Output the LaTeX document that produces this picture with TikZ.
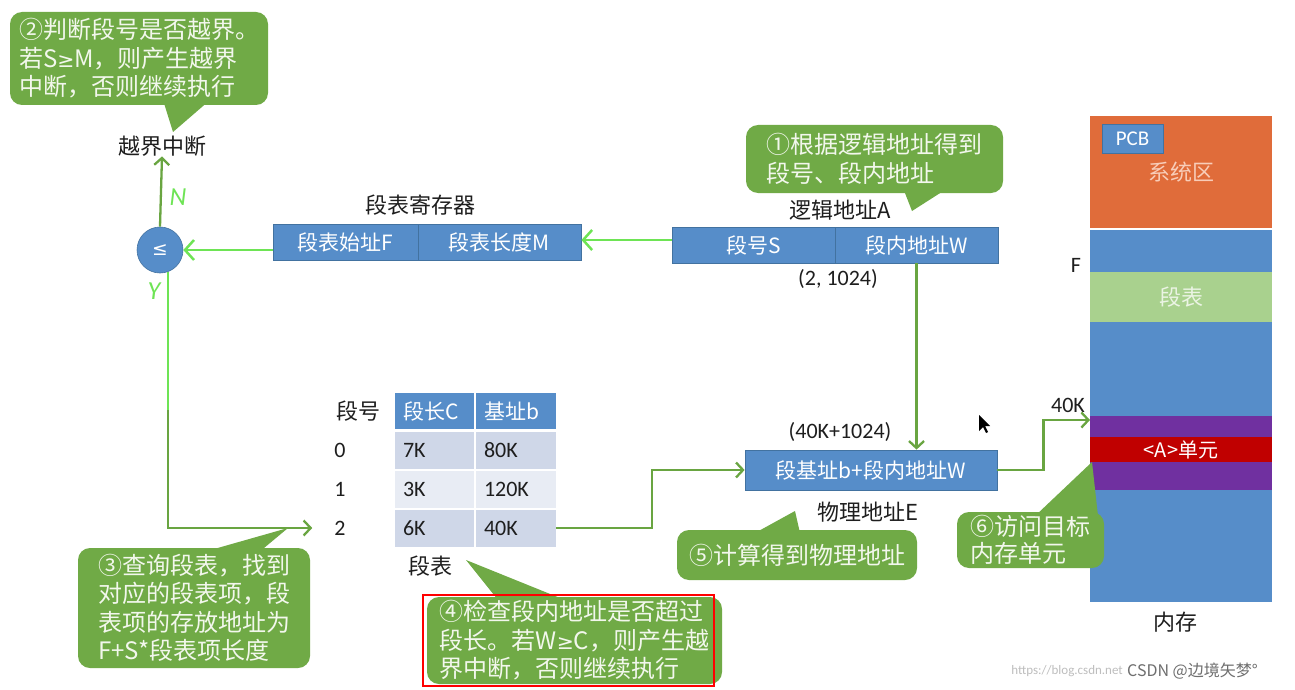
\documentclass[tikz,border=0pt]{standalone}
\usepackage{fontspec}
\setmainfont{Carlito}
\newfontfamily\cjk{Noto Sans CJK SC}
\newfontfamily\djv[Scale=0.85]{DejaVu Sans}
\usetikzlibrary{arrows.meta}
\definecolor{cgreen}{RGB}{112,170,70}
\definecolor{cgreenline}{RGB}{105,165,65}
\definecolor{cbright}{RGB}{110,228,85}
\definecolor{cblue}{RGB}{86,141,201}
\definecolor{cblueb}{RGB}{66,114,160}
\definecolor{corange}{RGB}{224,108,58}
\definecolor{corangetxt}{RGB}{248,205,185}
\definecolor{csegt}{RGB}{169,209,142}
\definecolor{csegttxt}{RGB}{235,244,228}
\definecolor{cpurple}{RGB}{112,48,160}
\definecolor{cred}{RGB}{192,0,0}
\definecolor{crowa}{RGB}{207,215,232}
\definecolor{crowb}{RGB}{232,236,244}
\definecolor{ctxt}{RGB}{242,247,236}
\definecolor{cdark}{RGB}{30,30,30}
\definecolor{curl}{RGB}{190,190,190}
\definecolor{cwm}{RGB}{110,110,110}
\newcommand\myfs[2]{\fontsize{#1}{#2}\selectfont}
\tikzset{
  callout/.style={fill=cgreen, rounded corners=12, text=ctxt, align=left, inner sep=0,
    font=\cjk\myfs{24}{28.5}},
  bbox/.style={fill=cblue, draw=cblueb, line width=0.8, text=white, inner sep=0,
    font=\cjk\myfs{21}{24}},
  band/.style={inner sep=0, minimum width=182},
  lbl/.style={text=cdark, inner sep=0, font=\cjk\myfs{22}{26}},
  num/.style={text=cdark, inner sep=0, font=\myfs{22}{26}},
  cell/.style={inner sep=0, inner xsep=8, minimum height=37, align=left, text=cdark, font=\myfs{22}{26}},
  darrow/.style={draw=cgreenline, line width=2.3, -{Straight Barb[length=7,width=15,line width=2.3]}},
  dline/.style={draw=cgreenline, line width=2.3},
  barrow/.style={draw=cbright, line width=2.5, -{Straight Barb[length=9,width=20,line width=2.5]}},
  bline/.style={draw=cbright, line width=2.5},
  hand/.style={text=cbright, inner sep=0, font=\itshape\myfs{26}{28}}
}
\begin{document}
\begin{tikzpicture}[x=1pt,y=-1pt]
\useasboundingbox[fill=white] (0,0) rectangle (1295,690);

% ---------- memory ----------
\node[band, fill=cblue, minimum height=372] (memlow) at (1181,416) {};
\node[band, fill=corange, minimum height=112, text=corangetxt, font=\cjk\myfs{22}{26}] (sys) at (1181,172) {系统区};
\node[fill=cblue, draw=cblueb, line width=0.6, minimum width=61, minimum height=29, inner sep=0, text=white, font=\myfs{21}{24}] (pcb) at (1132.5,138.5) {PCB};
\node[band, fill=csegt, minimum height=50, text=csegttxt, font=\cjk\myfs{22}{26}] (segmem) at (1181,297) {段表};
\node[band, fill=cpurple, minimum height=74] (purple) at (1181,453) {};
\node[band, fill=cred, minimum height=25, text=white, font=\cjk\myfs{20}{24}] (unitA) at (1181,449.5) {<A>单元};
\node[num] (flbl) at (1076,265) {F};
\node[num] (k40) at (1068,405) {40K};
\node[lbl] (memlbl) at (1175,622) {内存};
\coordinate (m40) at (1090,420);

% ---------- overflow / compare ----------
\node[lbl] (ovf) at (162,146) {越界中断};
\node[circle, fill=cblue, draw=cblueb, line width=0.6, minimum size=46, inner sep=0, text=white, font=\djv\myfs{22}{24}] (cmp) at (160,250) {≤};
\draw[darrow] (cmp.north) -- (ovf.south);
\node[hand] (nlab) at (178,197) {N};
\node[hand] (ylab) at (154,291) {Y};

% ---------- segment register ----------
\node[lbl] (reglbl) at (420,205) {段表寄存器};
\node[bbox, minimum width=145, minimum height=36] (regF) at (345.5,242) {段表始址F};
\node[bbox, minimum width=163, minimum height=36] (regM) at (499.5,242) {段表长度M};

% ---------- logical address ----------
\node[lbl] (lalbl) at (840,210) {逻辑地址A};
\node[bbox, minimum width=163, minimum height=36] (laS) at (753.5,245) {段号S};
\node[bbox, minimum width=163, minimum height=36] (laW) at (916.5,245) {段内地址W};
\node[num] (la) at (838,279) {(2, 1024)};

% ---------- physical address ----------
\node[num] (pa) at (840,432) {(40K+1024)};
\node[bbox, minimum width=252, minimum height=40] (phys) at (871,470) {段基址b+段内地址W};
\node[lbl] (palbl) at (868,512) {物理地址E};

% ---------- segment table ----------
\node[lbl] (thno) at (358,411) {段号};
\node[cell, fill=cblue, text=white, text width=63, minimum height=36, font=\cjk\myfs{21}{24}] (h1) at (434.5,411) {段长C};
\node[cell, fill=cblue, text=white, text width=64, minimum height=36, font=\cjk\myfs{21}{24}] (h2) at (516,411) {基址b};
\node[cell, fill=crowa, text width=63] (c01) at (434.5,450) {7K};
\node[cell, fill=crowa, text width=64] (c02) at (516,450) {80K};
\node[cell, fill=crowb, text width=63] (c11) at (434.5,489) {3K};
\node[cell, fill=crowb, text width=64] (c12) at (516,489) {120K};
\node[cell, fill=crowa, text width=63] (c21) at (434.5,528) {6K};
\node[cell, fill=crowa, text width=64] (c22) at (516,528) {40K};
\node[num] (r0) at (340,450) {0};
\node[num] (r1) at (340,489) {1};
\node[num] (r2) at (340,528) {2};
\node[lbl] (tlbl) at (430,566) {段表};

% ---------- connectors ----------
\draw[barrow] (laS.west |- 0,240) -- (regM.east |- 0,240);
\draw[barrow] (regF.west |- cmp.east) -- (cmp.east);
\coordinate (ytop) at (168,272);
\coordinate (ymid) at (168,410);
\draw[bline] (ytop) -- (ymid);
\draw[darrow, shorten >=22] (ymid) |- (r2.west);
\draw[darrow] (laW.south) -- (laW.south |- phys.north);
\draw[darrow] (c22.east) -- ++(96,0) |- (phys.west);
\draw[darrow] (phys.east) -- ++(46,0) |- (m40);

% ---------- callouts ----------
\node[callout, minimum width=258, minimum height=93] (co2) at (139,58.5)
  {②判断段号是否越界。\\若S{\djv ≥}M，则产生越界\\中断，否则继续执行};
\fill[cgreen] (163,100) -- (210,100) -- (173,132) -- cycle;

\node[callout, minimum width=257, minimum height=68] (co1) at (874.5,159)
  {①根据逻辑地址得到\\段号、段内地址};
\fill[cgreen] (903,188) -- (948,188) -- (912,211) -- cycle;

\node[callout, minimum width=232, minimum height=120] (co3) at (194,608)
  {③查询段表，找到\\对应的段表项，段\\表项的存放地址为\\F+S*段表项长度};
\fill[cgreen] (200,553) -- (258,553) -- (288,528) -- cycle;

\node[callout, minimum width=295, minimum height=87] (co4) at (574.5,640.5)
  {④检查段内地址是否超过\\段长。若W{\djv ≥}C，则产生越\\界中断，否则继续执行};
\fill[cgreen] (498,600) -- (565,600) -- (466,560) -- cycle;
\node[draw=red, line width=2.5, minimum width=291, minimum height=91, inner sep=0] (redframe) at (568.5,640.5) {};

\node[callout, minimum width=240, minimum height=50] (co5) at (797,555)
  {⑤计算得到物理地址};
\fill[cgreen] (755,533) -- (800,533) -- (795,511) -- cycle;

\node[callout, minimum width=147, minimum height=56, font=\cjk\myfs{24}{27}] (co6) at (1030.5,540)
  {⑥访问目标\\内存单元};
\fill[cgreen] (1035,516) -- (1098,516) -- (1092,462) -- cycle;

% ---------- cursor ----------
\fill[black] (979,415) -- (979,431) -- (983,427) -- (986,433) -- (988,432) -- (985,426) -- (990,426) -- cycle;

% ---------- watermark ----------
\node[inner sep=0, text=curl, font=\myfs{13}{16}, anchor=east] (url) at (1123,671) {https://blog.csdn.net};
\node[inner sep=0, text=cwm, font=\cjk\myfs{16}{18}, anchor=west] (wm) at (1127,671) {CSDN @边境矢梦°};
\end{tikzpicture}
\end{document}
